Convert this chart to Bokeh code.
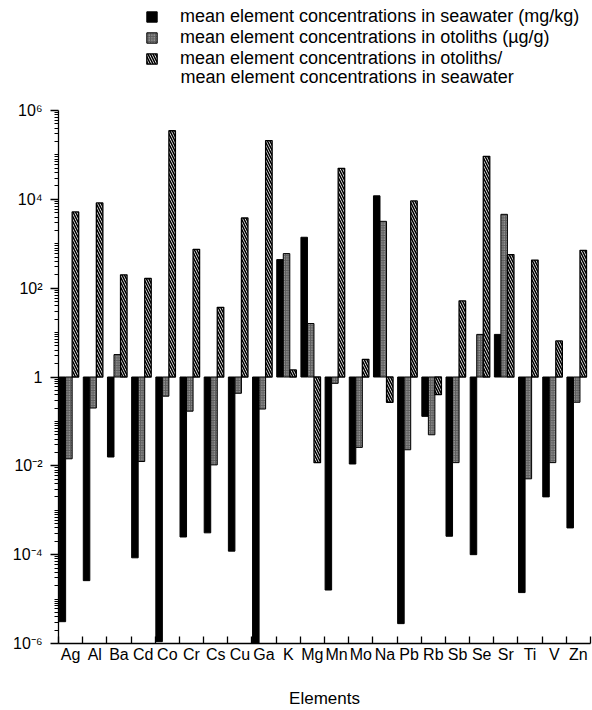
from bokeh.plotting import figure
from bokeh.models import Range1d, FixedTicker, Legend, LegendItem, ColumnDataSource, Label
from bokeh.embed import file_html
from bokeh.resources import INLINE

elements = ["Ag", "Al", "Ba", "Cd", "Co", "Cr", "Cs", "Cu", "Ga", "K", "Mg",
            "Mn", "Mo", "Na", "Pb", "Rb", "Sb", "Se", "Sr", "Ti", "V", "Zn"]
seawater = [3.1e-6, 2.6e-5, 0.0158, 8.5e-5, 1.1e-6, 2.5e-4, 3.1e-4, 1.2e-4, 1.0e-6, 440, 1400,
            1.6e-5, 0.011, 12000, 2.8e-6, 0.13, 2.6e-4, 1.0e-4, 9.1, 1.4e-5, 2.0e-3, 4.0e-4]
otolith = [0.0144, 0.2, 3.2, 0.0125, 0.37, 0.17, 0.0105, 0.43, 0.19, 600, 16,
           0.72, 0.026, 3200, 0.023, 0.05, 0.0118, 9.1, 4600, 0.0051, 0.0118, 0.27]
ratio = [5200, 8300, 200, 165, 3.5e5, 750, 37, 3800, 2.1e5, 1.44, 0.0118,
         5.0e4, 2.5, 0.27, 9200, 0.4, 52, 9.3e4, 570, 430, 6.5, 710]
series_labels = ["mean element concentrations in seawater (mg/kg)",
                 "mean element concentrations in otoliths (\u00b5g/g)",
                 "mean element concentrations in otoliths/"]
series_label_cont = "mean element concentrations in seawater"
ytick_values = [1e-6, 1e-4, 1e-2, 1, 1e2, 1e4, 1e6]
ytick_labels = ["10\u207b\u2076", "10\u207b\u2074", "10\u207b\u00b2", "1", "10\u00b2", "10\u2074", "10\u2076"]

FONT = "Liberation Sans"
n = len(elements)

# frame extends above 10^6 so that the legend sits inside it; axis is bounded to 1e-6..1e6
H, TOP, BOTTOM = 710, 5, 67
y_top_px = 110  # where 10^6 should sit
px_per_dec = (H - BOTTOM - y_top_px) / 12.0
y_end = 10 ** (6 + (y_top_px - TOP) / px_per_dec)
FRAME_BOTTOM = H - BOTTOM

p = figure(width=592, height=H, y_axis_type="log",
           x_range=Range1d(0, n), y_range=Range1d(1e-6, y_end),
           output_backend="svg", toolbar_location=None,
           min_border_left=58, min_border_right=2, min_border_top=TOP, min_border_bottom=BOTTOM)
p.outline_line_color = None
p.xgrid.visible = False
p.ygrid.visible = False
p.background_fill_color = "white"

bw = 0.27
offsets = [-0.34, -0.07, 0.2]
centers = [i + 0.5 for i in range(n)]

src = ColumnDataSource(dict(
    x0=[c + offsets[0] for c in centers],
    x1=[c + offsets[1] for c in centers],
    x2=[c + offsets[2] for c in centers],
    sea=seawater, oto=otolith, rat=ratio))

r0 = p.vbar(x="x0", width=bw, bottom=1, top="sea", source=src,
            fill_color="black", line_color="black", line_width=1)
r1 = p.vbar(x="x1", width=bw, bottom=1, top="oto", source=src,
            fill_color="#5e5e5e", line_color="black", line_width=1,
            hatch_pattern="dot", hatch_color="#c8c8c8", hatch_scale=2.5, hatch_weight=1)
r2 = p.vbar(x="x2", width=bw, bottom=1, top="rat", source=src,
            fill_color="white", line_color="black", line_width=1.3,
            hatch_pattern="left_diagonal_line", hatch_color="black", hatch_scale=5, hatch_weight=1.6)

# y axis
yax = p.yaxis[0]
minor = []
for k in range(-6, 6):
    for m in range(1, 10):
        v = m * 10.0 ** k
        if m == 1 and k % 2 == 0:
            continue
        minor.append(v)
yax.ticker = FixedTicker(ticks=ytick_values, minor_ticks=minor)
yax.bounds = (1e-6, 1e6)
yax.major_label_overrides = {v: l for v, l in zip(ytick_values, ytick_labels)}
yax.major_tick_out = 8
yax.major_tick_in = 0
yax.minor_tick_out = 4
yax.minor_tick_in = 0
yax.major_label_standoff = 8
yax.major_label_text_font = FONT
yax.major_label_text_font_size = "16px"
yax.major_label_text_color = "black"
yax.axis_line_color = "black"
yax.axis_line_width = 1.3
yax.major_tick_line_width = 1.3

# x axis
xax = p.xaxis[0]
xax.ticker = FixedTicker(ticks=centers, minor_ticks=list(range(n + 1)))
xax.major_label_overrides = {c: e for c, e in zip(centers, elements)}
xax.major_tick_in = 0
xax.major_tick_out = 0
xax.minor_tick_in = 7
xax.minor_tick_out = 0
xax.minor_tick_line_color = "black"
xax.minor_tick_line_width = 1.3
xax.axis_line_color = "black"
xax.axis_line_width = 1.3
xax.major_label_standoff = 2
xax.major_label_text_font = FONT
xax.major_label_text_font_size = "16px"
xax.major_label_text_color = "black"
xax.axis_label = "Elements"
xax.axis_label_text_font = FONT
xax.axis_label_text_font_size = "17px"
xax.axis_label_text_font_style = "normal"
xax.axis_label_text_color = "black"
xax.axis_label_standoff = 23

LEG_FS = "18px"
legend = Legend(items=[LegendItem(label=series_labels[0], renderers=[r0]),
                       LegendItem(label=series_labels[1], renderers=[r1]),
                       LegendItem(label=series_labels[2], renderers=[r2])],
                location=(87, FRAME_BOTTOM - 69), orientation="vertical",
                glyph_width=13, glyph_height=13, label_standoff=22,
                spacing=-4, padding=0, margin=0,
                border_line_color=None, background_fill_alpha=0,
                label_text_font=FONT, label_text_font_size=LEG_FS,
                label_text_color="black", label_height=18)
p.add_layout(legend, "center")

cont = Label(x=122, y=FRAME_BOTTOM - 76, x_units="screen", y_units="screen",
             text=series_label_cont, text_font=FONT, text_font_size=LEG_FS,
             text_color="black", text_baseline="middle", text_align="left")
p.add_layout(cont)

open("out.html", "w").write(file_html(p, INLINE))
